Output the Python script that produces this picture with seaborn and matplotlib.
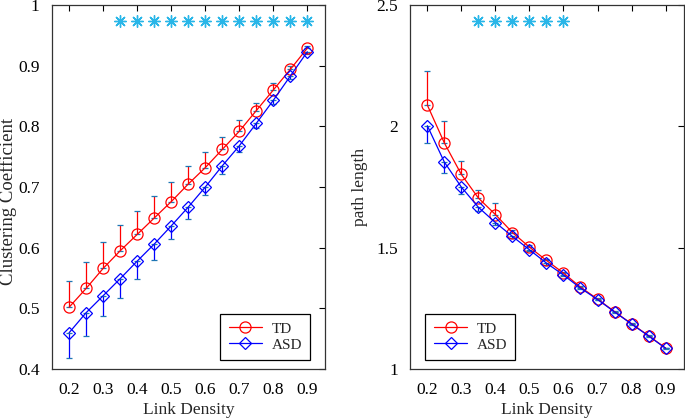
import numpy as np
import pandas as pd
import matplotlib
matplotlib.use('Agg')
import matplotlib.pyplot as plt
import seaborn as sns

# Link density values (x)
link_density = [0.2, 0.25, 0.3, 0.35, 0.4, 0.45, 0.5, 0.55, 0.6, 0.65, 0.7, 0.75, 0.8, 0.85, 0.9]

# Clustering coefficient
cc_td = [0.502, 0.533, 0.566, 0.595, 0.622, 0.649, 0.676, 0.705, 0.732, 0.762, 0.792, 0.826, 0.860, 0.894, 0.929]
cc_td_err = [0.043, 0.044, 0.043, 0.042, 0.039, 0.037, 0.033, 0.030, 0.026, 0.021, 0.019, 0.012, 0.011, 0.006, 0.003]
cc_asd = [0.460, 0.493, 0.521, 0.549, 0.578, 0.606, 0.636, 0.667, 0.700, 0.735, 0.768, 0.805, 0.843, 0.883, 0.923]
cc_asd_err = [0.042, 0.038, 0.033, 0.032, 0.030, 0.026, 0.022, 0.020, 0.013, 0.014, 0.010, 0.008, 0.006, 0.005, 0.003]
cc_sig = [0.35, 0.4, 0.45, 0.5, 0.55, 0.6, 0.65, 0.7, 0.75, 0.8, 0.85, 0.9]

# Path length
pl_td = [2.088, 1.932, 1.802, 1.705, 1.637, 1.563, 1.503, 1.448, 1.396, 1.338, 1.289, 1.237, 1.187, 1.138, 1.087]
pl_td_err = [0.141, 0.090, 0.055, 0.034, 0.047, 0.010, 0.008, 0.006, 0.005, 0.004, 0.004, 0.003, 0.003, 0.002, 0.002]
pl_asd = [2.003, 1.853, 1.750, 1.667, 1.604, 1.547, 1.492, 1.437, 1.388, 1.334, 1.287, 1.236, 1.186, 1.137, 1.086]
pl_asd_err = [0.071, 0.043, 0.027, 0.015, 0.012, 0.008, 0.006, 0.006, 0.005, 0.005, 0.004, 0.004, 0.003, 0.003, 0.002]
pl_sig = [0.35, 0.4, 0.45, 0.5, 0.55, 0.6]

sns.set_style('white')
plt.rcParams['font.family'] = ['Liberation Serif', 'DejaVu Serif']

fig = plt.figure(figsize=(6.85, 4.2), dpi=100)
ax1 = fig.add_axes([0.076, 0.121, 0.399, 0.867])
ax2 = fig.add_axes([0.599, 0.121, 0.399, 0.867])

star_color = '#29b6e8'


def draw_panel(ax, td, td_err, asd, asd_err, sig, sig_y):
    zeros = np.zeros(len(link_density))
    # one-sided error bars: TD upward, ASD downward
    ax.errorbar(link_density, td, yerr=[zeros, td_err], fmt='none', ecolor='red',
                elinewidth=0.9, capsize=2.5, capthick=0.9)
    ax.errorbar(link_density, asd, yerr=[asd_err, zeros], fmt='none', ecolor='blue',
                elinewidth=0.9, capsize=2.5, capthick=0.9)
    df = pd.DataFrame({'x': link_density * 2,
                       'y': list(td) + list(asd),
                       'grp': ['TD'] * len(td) + ['ASD'] * len(asd)})
    sns.lineplot(data=df, x='x', y='y', hue='grp', style='grp',
                 palette={'TD': 'red', 'ASD': 'blue'},
                 markers={'TD': 'o', 'ASD': 'D'}, dashes=False,
                 markersize=8, markerfacecolor='none', markeredgewidth=0.9,
                 linewidth=0.9, ax=ax)
    for line in ax.get_lines():
        if line.get_marker() == 'D':
            line.set_markersize(6.5)
        line.set_markeredgecolor(line.get_color())
    ax.scatter(sig, [sig_y] * len(sig), marker=(8, 2, 0), s=70, color=star_color,
               linewidths=1.0, zorder=3)
    ax.set_xlim(0.15, 0.953)
    ax.set_xticks([0.2, 0.3, 0.4, 0.5, 0.6, 0.7, 0.8, 0.9])
    ax.set_xticklabels(['0.2', '0.3', '0.4', '0.5', '0.6', '0.7', '0.8', '0.9'])
    ax.set_xlabel('Link Density', fontsize=12.5, labelpad=3)
    ax.tick_params(direction='in', top=True, right=True, length=4, width=0.8,
                   labelsize=12.5, colors='black', pad=9)
    for sp in ax.spines.values():
        sp.set_color('#333333')
        sp.set_linewidth(0.9)


draw_panel(ax1, cc_td, cc_td_err, cc_asd, cc_asd_err, cc_sig, 0.974)
ax1.set_ylim(0.4, 1.0)
ax1.set_yticks([0.4, 0.5, 0.6, 0.7, 0.8, 0.9, 1.0])
ax1.set_yticklabels(['0.4', '0.5', '0.6', '0.7', '0.8', '0.9', '1'])
ax1.set_ylabel('Clustering Coefficient', fontsize=13.5)
ax1.yaxis.set_label_coords(-0.128, 0.46)

draw_panel(ax2, pl_td, pl_td_err, pl_asd, pl_asd_err, pl_sig, 2.435)
ax2.set_ylim(1.0, 2.5)
ax2.set_yticks([1.0, 1.5, 2.0, 2.5])
ax2.set_yticklabels(['1', '1.5', '2', '2.5'])
ax2.set_ylabel('path length', fontsize=12.5, labelpad=6)

for ax, loc, anchor in [(ax1, 'lower right', (0.945, 0.025)), (ax2, 'lower left', (0.055, 0.025))]:
    handles, labels = ax.get_legend_handles_labels()
    leg = ax.legend(handles, labels, loc=loc, bbox_to_anchor=anchor, fontsize=11,
                    frameon=True, fancybox=False, edgecolor='black', framealpha=1,
                    handlelength=2.2, borderpad=0.55, labelspacing=0.15,
                    handletextpad=0.6, borderaxespad=0)
    leg.get_frame().set_linewidth(0.9)
    for h in leg.legend_handles:
        h.set_markerfacecolor('none')
        h.set_markeredgecolor(h.get_color())

fig.savefig('out.png', dpi=100)
